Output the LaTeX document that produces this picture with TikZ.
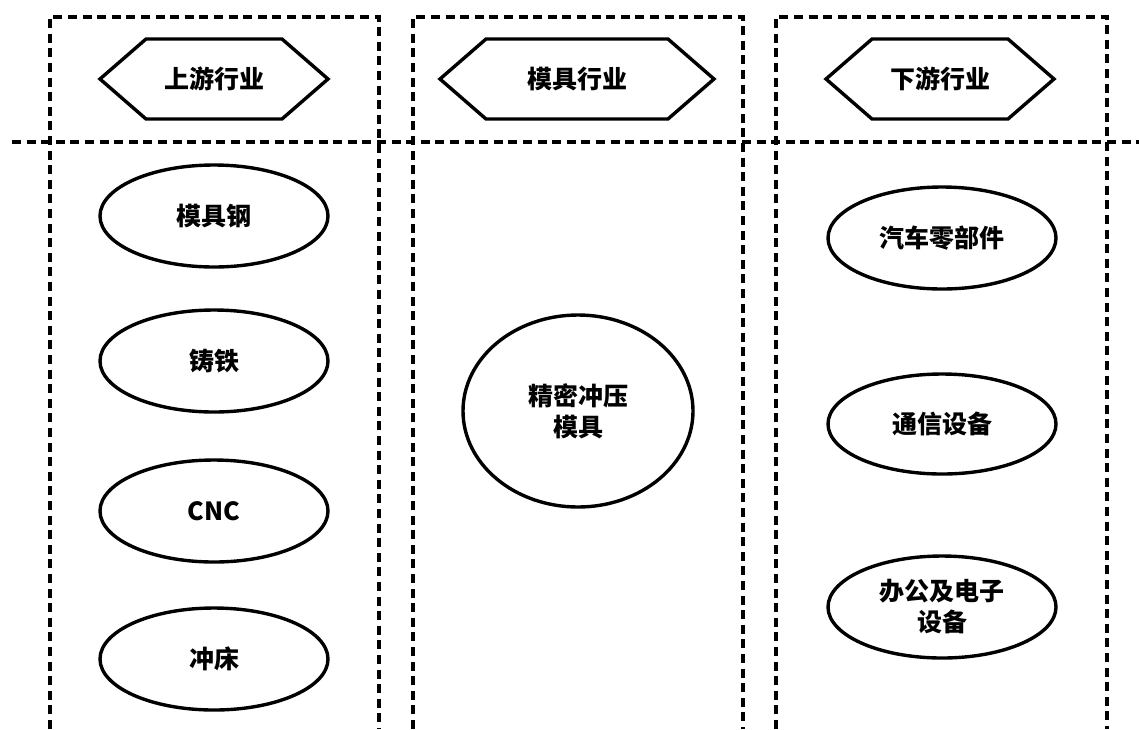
\documentclass[tikz,border=0pt]{standalone}
\usepackage{fontspec}
\setmainfont{Noto Sans CJK SC}
\usepackage{tikz}
\usetikzlibrary{shapes.geometric,shapes.symbols}
\tikzstyle{frame}=[line width=2pt, dash pattern=on 4.5pt off 2.8pt]
\tikzset{
    stage/.style={signal, signal to=west and east, signal pointer angle=82,
        draw, line width=1.7pt, minimum width=114pt, minimum height=40pt,
        inner sep=0pt, font=\bfseries\fontsize{12.5}{15.5}\selectfont},
    item/.style={ellipse, draw, line width=1.7pt, minimum width=114pt,
        minimum height=51pt, inner sep=0pt, align=center,
        font=\bfseries\fontsize{12.5}{15.5}\selectfont}
}

\begin{document}
\begin{tikzpicture}[x=0.5pt, y=-0.5pt]
 \useasboundingbox (0,0) rectangle (1139,729);

 % columns
 \draw[frame] (50,729) |- (379,17) -- (379,729);
 \draw[frame] (413,729) |- (743,17) -- (743,729);
 \draw[frame] (776,729) |- (1107,17) -- (1107,729);
 \draw[frame] (12,142) -- (1139,142);

 \begin{scope}
      \node (up)[stage] at (214,79) {上游行业};
      \node (mid)[stage, minimum width=137pt] at (577,79) {模具行业};
      \node (down)[stage] at (940,79) {下游行业};

      \node (steel)[item] at (214,216) {模具钢};
      \node (iron)[item] at (214,361) {铸铁};
      \node (cnc)[item] at (214,511) {CNC};
      \node (press)[item] at (214,659) {冲床};

      \node (die)[item, minimum width=115pt, minimum height=96pt] at (578,411) {精密冲压\\模具};

      \node (auto)[item] at (942,238) {汽车零部件};
      \node (telecom)[item, minimum height=50pt] at (942,424) {通信设备};
      \node (office)[item] at (942,607) {办公及电子\\设备};
 \end{scope}

\end{tikzpicture}
\end{document}
